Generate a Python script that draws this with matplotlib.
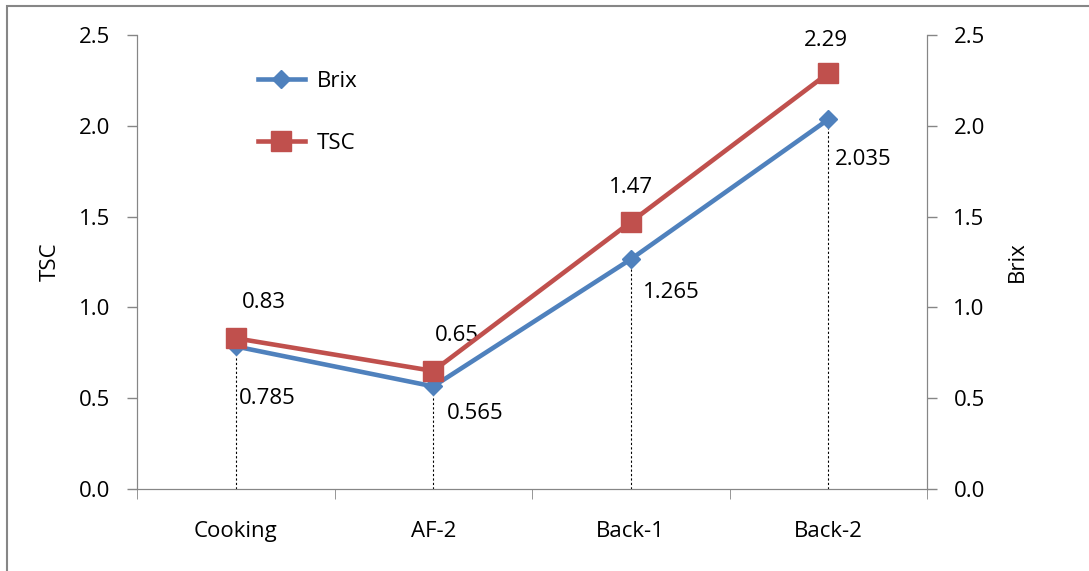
import matplotlib.pyplot as plt
from matplotlib.patches import Rectangle

# datos
etapas = ['Cooking', 'AF-2', 'Back-1', 'Back-2']
brix = [0.785, 0.565, 1.265, 2.035]
tsc = [0.83, 0.65, 1.47, 2.29]
ticks_y = [0.0, 0.5, 1.0, 1.5, 2.0, 2.5]

# desplazamiento de las etiquetas (en pixeles)
off_tsc = [(28, 36), (24, 35), (0, 35), (-2, 33)]
off_brix = [(3, -52), (14, -27), (12, -33), (7, -40)]

azul = '#4F81BD'
rojo = '#C0504D'
gris = '#868686'
fs = 16

plt.rcParams['font.family'] = ['Open Sans', 'DejaVu Sans']

fig = plt.figure(figsize=(10.89, 5.71), dpi=100)
ax = fig.add_axes([137/1089, 82/571, 790/1089, 454/571])
ax2 = ax.twinx()

x = list(range(len(etapas)))

# lineas de caida (drop lines) de Brix hasta el eje
for xi, v in zip(x, brix):
    ax.plot([xi, xi], [0, v], color='black', lw=0.8, ls=(0, (2, 2)), zorder=1)

l1, = ax.plot(x, brix, color=azul, lw=3.3, marker='D', ms=9.5, label='Brix', zorder=3)
l2, = ax.plot(x, tsc, color=rojo, lw=3.3, marker='s', ms=14, label='TSC', zorder=4)

# etiquetas de valores
px = 0.72
for xi, v, (dx, dy) in zip(x, tsc, off_tsc):
    ax.annotate(f'{v:g}', (xi, v), xytext=(dx*px, dy*px), textcoords='offset points',
                ha='center', va='center', fontsize=fs)
for xi, v, (dx, dy) in zip(x, brix, off_brix):
    ax.annotate(f'{v:g}', (xi, v), xytext=(dx*px, dy*px), textcoords='offset points',
                ha='left', va='center', fontsize=fs)

ax.set_xlim(-0.5, 3.5)
for a in (ax, ax2):
    a.set_ylim(0, 2.5)
    a.set_yticks(ticks_y)
    a.set_yticklabels([f'{t:.1f}' for t in ticks_y], fontsize=fs)
    a.tick_params(axis='y', length=7, width=1, color=gris, pad=12)
    for s in a.spines.values():
        s.set_color(gris)
    a.spines['top'].set_visible(False)

ax.set_xticks(x)
ax.set_xticklabels(etapas, fontsize=fs)
ax.set_xticks([-0.5, 0.5, 1.5, 2.5, 3.5], minor=True)
ax.tick_params(axis='x', which='major', length=0, pad=23)
ax.tick_params(axis='x', which='minor', length=7, color=gris, direction='out')

ax.set_ylabel('TSC', fontsize=fs, labelpad=13)
ax2.set_ylabel('Brix', fontsize=fs, labelpad=16)

ax.legend(handles=[l1, l2], loc='upper left', bbox_to_anchor=(0.128, 0.965),
          frameon=False, fontsize=fs, labelspacing=1.85, handlelength=2.1,
          handletextpad=0.55)

# marco del grafico
fig.patches.append(Rectangle((7/1089, -0.1), 1.2, (571-6)/571 + 0.1,
                             transform=fig.transFigure, fill=False,
                             edgecolor=gris, lw=1.5))

fig.savefig('out.png', dpi=100)
